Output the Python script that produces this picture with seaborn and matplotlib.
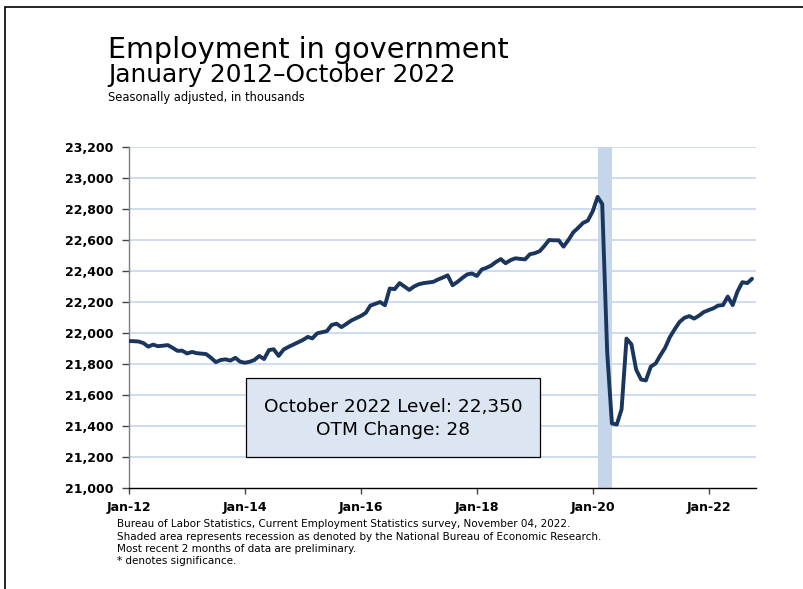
import pandas as pd
import seaborn as sns
import matplotlib.pyplot as plt
import matplotlib.dates as mdates
from matplotlib.patches import Rectangle
from matplotlib.ticker import FuncFormatter

# Government employment, monthly, Jan 2012 - Oct 2022 (thousands, SA)
start_month = '2012-01-01'
employment = [
    21948, 21947, 21945, 21935, 21912, 21925, 21915, 21918, 21922, 21905, 21885, 21886,
    21868, 21878, 21870, 21867, 21864, 21840, 21812, 21826, 21830, 21822, 21840, 21815,
    21808, 21815, 21826, 21852, 21832, 21890, 21895, 21852, 21893, 21910, 21925, 21940,
    21955, 21975, 21965, 21998, 22005, 22012, 22052, 22060, 22038, 22058, 22080, 22095,
    22110, 22130, 22177, 22188, 22200, 22179, 22287, 22283, 22322, 22300, 22278, 22300,
    22315, 22322, 22326, 22330, 22345, 22358, 22372, 22308, 22330, 22355, 22378, 22384,
    22368, 22410, 22420, 22435, 22458, 22477, 22450, 22470, 22482, 22478, 22475, 22508,
    22515, 22528, 22560, 22600, 22598, 22598, 22557, 22600, 22650, 22678, 22710, 22725,
    22785, 22878, 22832, 21880, 21416, 21410, 21508, 21964, 21927, 21763, 21700, 21694,
    21783, 21804, 21854, 21904, 21973, 22025, 22071, 22098, 22109, 22093, 22112, 22135,
    22148, 22160, 22177, 22180, 22235, 22180, 22267, 22328, 22322, 22350,
]
recession = ('2020-02-01', '2020-05-01')
x_ticks = ['2012-01-01', '2014-01-01', '2016-01-01', '2018-01-01', '2020-01-01', '2022-01-01']
y_ticks = [21000, 21200, 21400, 21600, 21800, 22000, 22200, 22400, 22600, 22800, 23000, 23200]

title = 'Employment in government'
subtitle = 'January 2012\u2013October 2022'
units = 'Seasonally adjusted, in thousands'
box_text = 'October 2022 Level: 22,350\nOTM Change: 28'
notes = [
    'Bureau of Labor Statistics, Current Employment Statistics survey, November 04, 2022.',
    'Shaded area represents recession as denoted by the National Bureau of Economic Research.',
    'Most recent 2 months of data are preliminary.',
    '* denotes significance.',
]

df = pd.DataFrame({
    'date': pd.date_range(start_month, periods=len(employment), freq='MS'),
    'employment': employment,
})

sns.set_style('white')
plt.rcParams['font.family'] = ['DejaVu Sans']
plt.rcParams['text.color'] = 'black'
plt.rcParams['xtick.color'] = 'black'
plt.rcParams['ytick.color'] = 'black'

fig = plt.figure(figsize=(8.04, 5.89), dpi=100)
ax = fig.add_axes([129 / 804, 1 - 488 / 589, 627 / 804, 341 / 589])

# recession shading and grid
ax.axvspan(pd.Timestamp(recession[0]), pd.Timestamp(recession[1]),
           color='#c5d6eb', lw=0, zorder=1)
for v in y_ticks[1:]:
    ax.axhline(v, color='#c9daf0', lw=1.3, zorder=0)

sns.lineplot(data=df, x='date', y='employment', ax=ax, color='#1b365d',
             lw=2.8, zorder=3)

ax.set_xlim(pd.Timestamp('2012-01-01'), pd.Timestamp('2022-10-26'))
ax.set_ylim(21000, 23200)
ax.set_xticks([pd.Timestamp(t) for t in x_ticks])
ax.xaxis.set_major_formatter(mdates.DateFormatter('%b-%y'))
ax.set_yticks(y_ticks)
ax.yaxis.set_major_formatter(FuncFormatter(lambda v, p: f'{int(v):,}'))
ax.set_xlabel('')
ax.set_ylabel('')
ax.grid(False)

for s in ['top', 'right']:
    ax.spines[s].set_visible(False)
ax.spines['left'].set_color('#7f7f7f')
ax.spines['left'].set_linewidth(1.0)
ax.spines['bottom'].set_color('black')
ax.spines['bottom'].set_linewidth(1.0)
ax.tick_params(axis='y', left=True, length=5, width=1, color='#444444',
               labelcolor='black', labelsize=9, pad=6)
ax.tick_params(axis='x', bottom=True, length=4, width=1, color='#444444',
               labelcolor='black', labelsize=9, pad=5)
for lab in ax.get_xticklabels() + ax.get_yticklabels():
    lab.set_fontweight('bold')

# level box
ax.add_patch(Rectangle((0.1866, 0.0909), 0.4689, 0.2317, transform=ax.transAxes,
                       facecolor='#dce6f2', edgecolor='black', lw=0.9, zorder=5))
ax.text(0.421, 0.203, box_text, transform=ax.transAxes, ha='center', va='center',
        fontsize=13.3, linespacing=1.35, zorder=6)

# titles
fig.text(108 / 804, 1 - 58 / 589, title, fontsize=20.6, ha='left', va='baseline')
fig.text(108 / 804, 1 - 82 / 589, subtitle, fontsize=17.8, ha='left', va='baseline')
fig.text(108 / 804, 1 - 101 / 589, units, fontsize=8.3, ha='left', va='baseline')

for k, line in enumerate(notes):
    fig.text(117 / 804, 1 - (527 + 12.5 * k) / 589, line, fontsize=7.45,
             ha='left', va='baseline')

# outer frame (left and top edges visible)
fig.patches.append(Rectangle((5 / 804, -0.2), 1.2, 1.2 - 7 / 589,
                             transform=fig.transFigure, fill=False,
                             edgecolor='black', lw=1.2))

fig.savefig('out.png', dpi=100)
